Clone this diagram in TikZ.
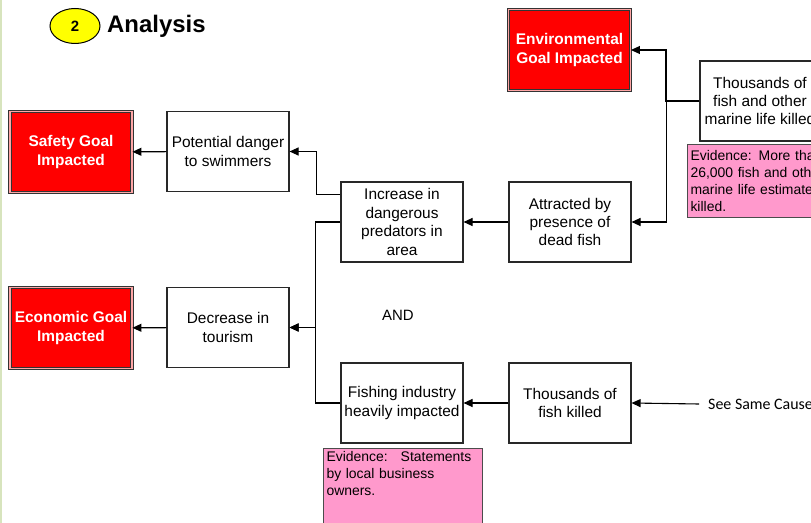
\documentclass[tikz,border=0pt]{standalone}
\usepackage{fontspec}
\setmainfont{Liberation Sans}
\newfontfamily\calibri{Carlito}
\usepackage{xcolor}
\usetikzlibrary{arrows.meta,calc,shapes.geometric}
\definecolor{goalred}{RGB}{255,0,0}
\definecolor{evpink}{RGB}{255,153,204}
\definecolor{badge}{RGB}{255,255,0}
\definecolor{edgegreen}{RGB}{215,228,189}
\definecolor{boxline}{RGB}{40,40,40}

\begin{document}
\begin{tikzpicture}[x=1bp,y=-1bp,
    cause/.style={draw=boxline,line width=1.1bp,fill=white,minimum width=122bp,minimum height=80bp,
        inner sep=1.5bp,align=center,font=\fontsize{15.5}{18.5}\selectfont},
    goal/.style={draw=black!80,double=red!35!white,double distance=1.3bp,line width=0.9bp,fill=goalred,
        text=white,minimum width=122bp,minimum height=81bp,inner sep=1bp,align=center,
        font=\fontsize{15.5}{18.5}\selectfont\bfseries},
    evidence/.style={draw=black!70,line width=1bp,fill=evpink,anchor=north west,align=left,
        inner sep=3bp,text width=150bp,font=\fontsize{14}{17}\selectfont},
    arr/.style={line width=1.1bp,-{Triangle[length=9bp,width=8bp]}}]
    \useasboundingbox (0,0) rectangle (811,523);
    \clip (0,0) rectangle (811,523);
    \fill[white] (0,0) rectangle (811,523);
    \fill[edgegreen] (0,0) rectangle (2,523);
    \node[ellipse,draw=black,line width=1bp,fill=badge,minimum width=50bp,minimum height=35bp,
        font=\fontsize{15}{15}\selectfont\bfseries] (badge) at (75,26) {2};
    \node[anchor=west,inner sep=0pt,font=\fontsize{24}{24}\selectfont\bfseries] (title) at (107,26) {Analysis};
    \node[goal] (safety) at (71,152) {Safety Goal\\Impacted};
    \node[goal] (economic) at (71,328) {Economic Goal\\Impacted};
    \node[goal] (environmental) at (569.5,50) {Environmental\\Goal Impacted};
    \node[cause] (danger) at (228,151.5) {Potential danger\\to swimmers};
    \node[cause] (tourism) at (228,327.5) {Decrease in\\tourism};
    \node[cause] (predators) at (402,222) {Increase in\\dangerous\\predators in\\area};
    \node[cause] (attracted) at (570,222) {Attracted by\\presence of\\dead fish};
    \node[cause] (fishing) at (402,403) {Fishing industry\\heavily impacted};
    \node[cause] (fishkilled) at (570,403) {Thousands of\\fish killed};
    \node[cause,minimum width=120bp] (marine) at (760,101) {Thousands of\\fish and other\\marine life killed};
    \node[evidence,minimum height=73bp] (evmarine) at (687,144) {Evidence: More than\\26,000 fish and other\\marine life estimated\\killed.};
    \node[evidence,text width=153bp,text depth=70bp] (evfishing) at (323,448) {Evidence:\hspace{13bp}Statements\\by local business\\owners.};
    \node[font=\fontsize{15}{15}\selectfont] (and) at (398,315) {AND};
    \node[anchor=west,inner sep=0pt,font=\calibri\fontsize{16}{16}\selectfont] (same) at (708,404) {See Same Cause};
    \draw[arr] (danger) -- (safety);
    \draw[arr] (tourism) -- (economic);
    \draw[arr] ($(predators.north west)+(0,13)$) -| ($(danger.east)+(27,0)$) -- (danger.east);
    \draw[arr] (predators.west) -| ($(tourism.east)+(26,0)$) -- (tourism.east);
    \draw[arr] (fishing.west) -| ($(tourism.east)+(26,0)$) -- (tourism.east);
    \draw[arr] (attracted) -- (predators);
    \draw[arr] (fishkilled) -- (fishing);
    \draw[arr] (marine.west) -| ($(environmental.east)+(35,0)$) -- (environmental.east);
    \draw[arr] (marine.west) -| ($(attracted.east)+(35,0)$) -- (attracted.east);
    \draw[arr] ([xshift=-9bp]same.west) -- (fishkilled.east);
\end{tikzpicture}
\end{document}
